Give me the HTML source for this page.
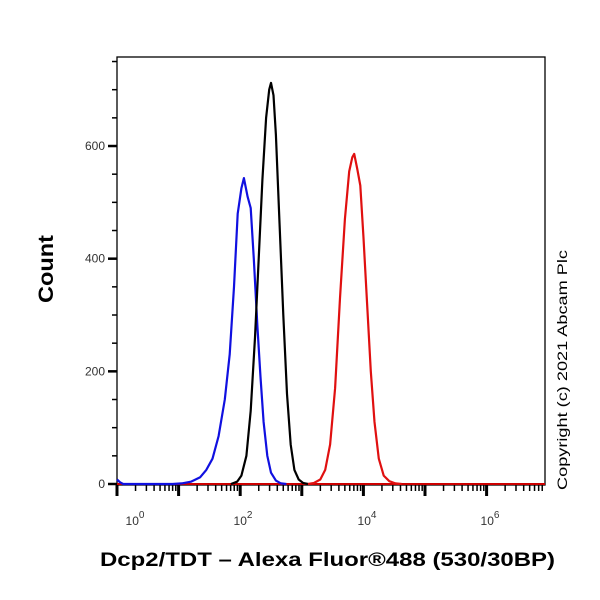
<!DOCTYPE html>
<html><head><meta charset="utf-8"><style>
html,body{margin:0;padding:0;background:#fff;width:600px;height:600px;overflow:hidden}
svg text{font-family:"Liberation Sans",Arial,sans-serif}
</style></head><body>
<svg id="chart" width="600" height="600" viewBox="0 0 600 600" xmlns="http://www.w3.org/2000/svg">
<rect x="0" y="0" width="600" height="600" fill="#fff"/>
<g id="plot"></g>
<text transform="translate(53,269) rotate(-90)" text-anchor="middle" font-size="21" font-weight="bold" textLength="68" lengthAdjust="spacingAndGlyphs">Count</text>
<text x="100" y="566" font-size="19" font-weight="bold" textLength="455" lengthAdjust="spacingAndGlyphs">Dcp2/TDT – Alexa Fluor®488 (530/30BP)</text>
<text transform="translate(567,490) rotate(-90)" font-size="14" textLength="240" lengthAdjust="spacingAndGlyphs">Copyright (c) 2021 Abcam Plc</text>
</svg>
<script>
const yTicks=[0,200,400,600];
const xDecades=[0,2,4,6];
const blueX=[0.0,0.05,0.1,0.9,1.05,1.2,1.35,1.45,1.55,1.65,1.75,1.83,1.9,1.96,2.02,2.06,2.12,2.17,2.22,2.28,2.33,2.38,2.44,2.5,2.58,2.66,2.75];
const blueY=[8,3,0,0,1,4,12,25,45,85,150,230,350,480,525,543,510,490,400,280,190,110,50,20,6,1,0];
const blackX=[1.85,1.95,2.02,2.1,2.17,2.24,2.3,2.36,2.42,2.47,2.5,2.54,2.58,2.64,2.7,2.76,2.82,2.88,2.95,3.02,3.1];
const blackY=[0,4,15,50,130,260,400,540,650,700,712,690,620,460,300,160,70,25,8,2,0];
const redX=[3.1,3.2,3.3,3.38,3.46,3.54,3.62,3.7,3.77,3.82,3.85,3.9,3.95,4.0,4.06,4.12,4.18,4.25,4.33,4.42,4.52,4.62];
const redY=[0,2,8,25,70,170,330,470,555,580,586,560,530,440,320,200,110,45,15,5,1,0];
const X0=117,X1=545,Y0=484,Y1=57,DEC=61.6,PX=0.5633;
const xs=v=>X0+v*DEC, ys=v=>Y0-v*PX;
const NS="http://www.w3.org/2000/svg";
const g=document.getElementById('plot');
function mk(t,a){const e=document.createElementNS(NS,t);for(const k in a)e.setAttribute(k,a[k]);g.appendChild(e);return e;}
const fr=mk('rect',{x:X0,y:Y1,width:X1-X0,height:Y0+1-Y1,fill:'none',stroke:'#000','stroke-width':1.3});


for(let v=0;v<=750;v+=50){const major=v%200===0;const t=mk('line',{x1:X0-(major?9:5),x2:X0,y1:ys(v),y2:ys(v),stroke:'#000','stroke-width':major?2.5:1.5});

}
yTicks.forEach(v=>{const t=mk('text',{x:X0-12,y:ys(v)+4,'text-anchor':'end','font-size':12,fill:'#333'});t.textContent=v;

});
for(let d=0;d<7;d++){for(let m=1;m<10;m++){const x=xs(d+Math.log10(m));if(x>X1)break;const major=m===1;
const t=mk('line',{x1:x,x2:x,y1:Y0+1,y2:Y0+(major?12:7),stroke:'#000','stroke-width':major?3:1.5});

}}
const lx=[135,243,367,490];
xDecades.forEach((d,i)=>{const t=mk('text',{x:lx[i],y:525,'text-anchor':'middle','font-size':12,fill:'#333'});
t.innerHTML='10<tspan dy="-7" font-size="10">'+d+'</tspan>';

});
function series(X,Y,c,name){let d='';X.forEach((v,i)=>{d+=(i?'L':'M')+xs(v).toFixed(1)+','+ys(Y[i]).toFixed(1);});
const p=mk('path',{d:d,fill:'none',stroke:c,'stroke-width':2.2,'stroke-linejoin':'round'});

}
const bl=mk('line',{x1:X0,x2:X1,y1:Y0,y2:Y0,stroke:'#c00','stroke-width':2});


series(blueX,blueY,'#1010e0','blue-histogram');
series(blackX,blackY,'#000','black-histogram');
series(redX,redY,'#e01010','red-histogram');
</script>
</body></html>
